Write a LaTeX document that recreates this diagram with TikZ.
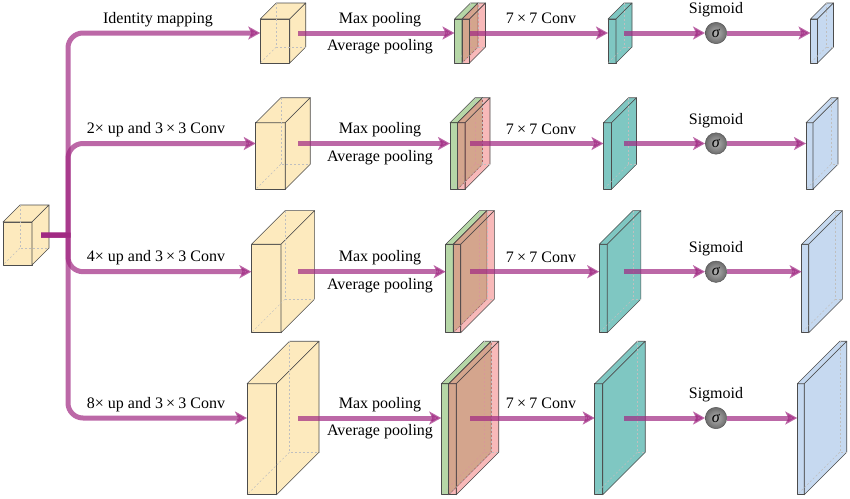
\documentclass[tikz,border=0pt]{standalone}
\usepackage{fontspec}
\setmainfont{Liberation Serif}
\usetikzlibrary{arrows.meta,shadings}
\definecolor{arrcol}{RGB}{160,40,130}
\definecolor{cubecol}{RGB}{253,234,190}
\definecolor{tealc}{RGB}{127,199,194}
\definecolor{bluec}{RGB}{198,217,240}
\definecolor{greenc}{RGB}{110,175,80}
\definecolor{pinkc}{RGB}{242,115,115}
\newcommand\mysp{\kern0.2em}
\newcommand\cuboid[7]{%
 \pgfmathsetmacro\cbxL{#2-#6/2-#4/2}%
 \pgfmathsetmacro\cbxR{#2-#6/2+#4/2}%
 \pgfmathsetmacro\cbyT{#3+#6/2-#5/2}%
 \pgfmathsetmacro\cbyB{#3+#6/2+#5/2}%
 \pgfmathsetmacro\cbxLd{\cbxL+#6}%
 \pgfmathsetmacro\cbxRd{\cbxR+#6}%
 \pgfmathsetmacro\cbyTd{\cbyT-#6}%
 \pgfmathsetmacro\cbyBd{\cbyB-#6}%
 \coordinate (#1) at (#2,#3);
 \coordinate (#1-in) at (\cbxL,#3);
 \filldraw[#7,edge] (\cbxL,\cbyB) -- (\cbxR,\cbyB) -- (\cbxR,\cbyT) -- (\cbxL,\cbyT) -- cycle;
 \filldraw[#7,edge] (\cbxL,\cbyT) -- (\cbxR,\cbyT) -- (\cbxRd,\cbyTd) -- (\cbxLd,\cbyTd) -- cycle;
 \filldraw[#7,edge] (\cbxR,\cbyB) -- (\cbxRd,\cbyBd) -- (\cbxRd,\cbyTd) -- (\cbxR,\cbyT) -- cycle;
 \draw[hid] (\cbxLd,\cbyTd) -- (\cbxLd,\cbyBd) -- (\cbxRd,\cbyBd);
 \draw[hid] (\cbxLd,\cbyBd) -- (\cbxL,\cbyB);
}
\tikzset{
 arr/.style={draw=arrcol, line width=5pt, opacity=0.7, -{Stealth[length=12pt,width=13pt,inset=3pt]}},
 lbl/.style={font=\fontsize{16}{19}\selectfont, anchor=base, inner sep=0pt},
 edge/.style={draw=black!70, line width=0.6pt, line join=round},
 hid/.style={draw=black!25, dash pattern=on 2pt off 2pt, line width=0.4pt},
 sigball/.style={circle, minimum size=21.4pt, inner sep=0pt, shading=radial, inner color=black!30, outer color=black!58, draw=black!65, line width=0.5pt, font=\fontsize{16}{19}\selectfont},
}
\begin{document}
\begin{tikzpicture}[x=1pt,y=-1pt]
\useasboundingbox (0,0) rectangle (850,498);
% input cube
\cuboid{inp}{26}{235}{29}{43}{17}{fill=cubecol}
\coordinate (src) at (41,235);
\coordinate (trunk) at (68,235);
% rows
\foreach \Y/\H/\D/\r in {33/44/16/1, 143.5/66.5/25/2, 271.7/88.5/33.6/3, 418/111/42.5/4}{
 \cuboid{c\r}{283}{\Y}{29.5}{\H}{\D}{fill=cubecol}
 \coordinate (cs\r) at (298,\Y);
 \cuboid{g\r}{466.25}{\Y}{7.5}{\H}{\D}{fill=greenc, fill opacity=0.5}
 \cuboid{p\r}{473.75}{\Y}{7.5}{\H}{\D}{fill=pinkc, fill opacity=0.5}
 \coordinate (m\r) at (470,\Y);
 \cuboid{t\r}{620}{\Y}{8}{\H}{\D}{fill=tealc}
 \coordinate (ts\r) at (624,\Y);
 \cuboid{b\r}{822}{\Y}{7}{\H}{\D}{fill=bluec}
 \node[sigball] (s\r) at (716,\Y) {\textit{σ}};
 \node[lbl] (mp\r) at (380,\Y-10) {Max pooling};
 \node[lbl] (ap\r) at (380,\Y+17.7) {Average pooling};
 \node[lbl] (cv\r) at (541,\Y-9.5) {7\mysp×\mysp7 Conv};
 \node[lbl] (sg\r) at (716,\Y-19.5) {Sigmoid};
}
% trunk bends
\coordinate (bend1) at (68,48);
\coordinate (bend2) at (68,158.5);
\coordinate (bend3) at (68,256.7);
\coordinate (bend4) at (68,403);
\draw[arr] (src) -- (trunk) -- (bend1) arc[start angle=180,end angle=270,radius=15] -- (c1-in);
\draw[arr] (src) -- (trunk) -- (bend2) arc[start angle=180,end angle=270,radius=15] -- (c2-in);
\draw[arr] (src) -- (trunk) -- (bend3) arc[start angle=180,end angle=90,radius=15] -- (c3-in);
\draw[arr] (src) -- (trunk) -- (bend4) arc[start angle=180,end angle=90,radius=15] -- (c4-in);
\foreach \r in {1,2,3,4}{
 \draw[arr] (cs\r) -- (g\r-in);
 \draw[arr] (m\r) -- (t\r-in);
 \draw[arr] (ts\r) -- (s\r.west);
 \draw[arr] (s\r.east) -- (b\r-in);
}
% left labels
\node[lbl] (l1) at (158,23) {Identity mapping};
\node[lbl] (l2) at (156,133.5) {2×\ up and 3\mysp×\mysp3 Conv};
\node[lbl] (l3) at (156,261.7) {4×\ up and 3\mysp×\mysp3 Conv};
\node[lbl] (l4) at (156,408) {8×\ up and 3\mysp×\mysp3 Conv};
\end{tikzpicture}
\end{document}
